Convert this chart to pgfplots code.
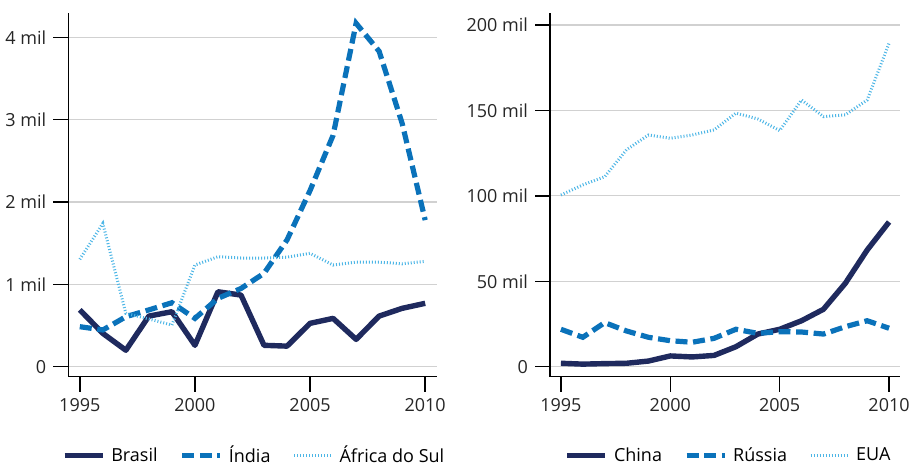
\documentclass[border=0pt]{standalone}
\usepackage{pgfplots}
\pgfplotsset{compat=1.18}
\usepackage{fontspec}
\setmainfont{Open Sans}
\definecolor{navy}{HTML}{1F2A5E}
\definecolor{midblue}{HTML}{0A72BA}
\definecolor{lightblue}{HTML}{4DB6E6}
\pgfplotsset{
  panel/.style={
    scale only axis, height=182pt,
    axis x line=bottom, axis y line=left,
    axis line style={-, line width=0.7pt, black},
    tick align=outside, major tick length=7.5pt,
    tick style={black, line width=0.7pt},
    xmin=1994.5, xmax=2010.5, xtick={1995,2000,2005,2010},
    ymajorgrids, grid style={line width=0.6pt, black!18},
    scaled y ticks=false,
    /pgf/number format/1000 sep={},
    /pgf/number format/assume math mode=true,
    tick label style={font=\fontsize{9}{10}\selectfont, text=black!85},
    clip=false,
    legend columns=3, legend cell align=left,
    legend style={draw=none, fill=none, font=\fontsize{9}{10}\selectfont, anchor=center,
      /tikz/every odd column/.append style={column sep=1pt},
      /tikz/every even column/.append style={column sep=9pt}},
    legend image code/.code={\draw[##1] (0pt,0pt) -- (19pt,0pt);},
  },
  sA/.style={navy, line width=2.7pt, line join=round},
  sB/.style={midblue, line width=2.6pt, dash pattern=on 6pt off 2.8pt},
  sC/.style={lightblue, line width=1.5pt, dash pattern=on 0.5pt off 1pt},
}
\begin{document}
\begin{tikzpicture}
\path[use as bounding box] (0pt,0pt) rectangle (456pt,237pt);
\begin{axis}[panel, at={(34.15pt,48.65pt)}, anchor=south west, width=184.2pt,
  ymin=-121, ymax=4299, ytick={0,1000,2000,3000,4000},
  yticklabels={0,1 mil,2 mil,3 mil,4 mil},
  legend style={at={(0.507,-0.217)}}]
\addplot[sA] coordinates {(1995,690) (1996,405) (1997,200) (1998,615) (1999,668) (2000,260) (2001,910) (2002,870) (2003,260) (2004,250) (2005,527) (2006,587) (2007,332) (2008,615) (2009,709) (2010,770)};
\addlegendentry{Brasil}
\addplot[sB] coordinates {(1995,486) (1996,446) (1997,607) (1998,690) (1999,777) (2000,587) (2001,830) (2002,950) (2003,1134) (2004,1540) (2005,2140) (2006,2810) (2007,4170) (2008,3830) (2009,2955) (2010,1780)};
\addlegendentry{Índia}
\addplot[sC] coordinates {(1995,1304) (1996,1740) (1997,648) (1998,580) (1999,506) (2000,1235) (2001,1336) (2002,1320) (2003,1320) (2004,1330) (2005,1377) (2006,1235) (2007,1270) (2008,1270) (2009,1250) (2010,1280)};
\addlegendentry{África do Sul}
\end{axis}
\begin{axis}[panel, at={(275pt,48.65pt)}, anchor=south west, width=175pt,
  ymin=-5850, ymax=207200, ytick={0,50000,100000,150000,200000},
  yticklabels={0,50 mil,100 mil,150 mil,200 mil},
  legend style={at={(0.513,-0.217)}}]
\addplot[sA] coordinates {(1995,2000) (1996,1500) (1997,1800) (1998,2000) (1999,3300) (2000,6300) (2001,5700) (2002,6600) (2003,11700) (2004,19100) (2005,21900) (2006,26900) (2007,33600) (2008,48800) (2009,68300) (2010,84700)};
\addlegendentry{China}
\addplot[sB] coordinates {(1995,21900) (1996,17200) (1997,25800) (1998,20900) (1999,17200) (2000,15200) (2001,14300) (2002,16600) (2003,21900) (2004,19500) (2005,20500) (2006,20300) (2007,19100) (2008,23400) (2009,26900) (2010,22500)};
\addlegendentry{Rússia}
\addplot[sC] coordinates {(1995,100500) (1996,106400) (1997,111200) (1998,127000) (1999,135600) (2000,133700) (2001,135600) (2002,138600) (2003,148400) (2004,145000) (2005,138200) (2006,156100) (2007,146400) (2008,147400) (2009,156100) (2010,189300)};
\addlegendentry{EUA}
\end{axis}
\end{tikzpicture}
\end{document}
